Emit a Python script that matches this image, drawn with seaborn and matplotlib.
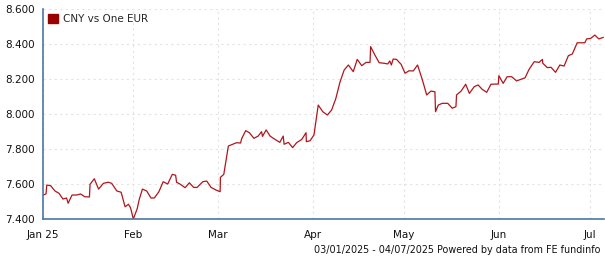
import matplotlib
matplotlib.use("Agg")
import matplotlib.pyplot as plt
from matplotlib.patches import Patch
import numpy as np
import pandas as pd
import seaborn as sns

# ---- data ----
series_name = "CNY vs One EUR"
start_date = "2025-01-01"
# days after 1 Jan 2025
day_offset = [
    1.5, 2.45, 2.7, 4.0, 5.4, 6.7, 8.0, 9.2, 9.7, 11.0, 12.5, 13.8, 15.2, 16.7, 16.9,
    18.3, 19.7, 21.3, 22.9, 24.0, 25.7, 27.1, 28.4, 29.5, 30.2, 31.1, 32.4, 33.0,
    34.1, 35.5, 36.9, 38.0, 39.5, 40.9, 42.4, 43.9, 45.0, 45.3, 46.4, 48.1, 49.5,
    50.9, 52.0, 53.9, 55.2, 56.6, 58.2, 59.6, 59.7, 60.8, 62.3, 63.7, 65.0, 66.3,
    66.7, 68.0, 69.2, 70.7, 72.1, 73.2, 73.5, 74.7, 76.0, 77.6, 79.2, 80.3, 80.6,
    82.0, 83.4, 84.7, 86.4, 87.8, 87.9, 89.1, 90.4, 91.8, 93.3, 94.8, 96.2, 97.6,
    98.9, 100.3, 101.7, 103.3, 104.6, 106.1, 107.5, 108.8, 109.0, 110.4, 111.8,
    113.4, 114.6, 115.3, 115.8, 116.4, 117.5, 119.0, 120.3, 121.6, 123.0, 124.4,
    126.0, 127.4, 128.8, 130.1, 130.3, 131.2, 132.5, 134.3, 135.8, 137.0, 137.2,
    138.7, 140.2, 141.4, 143.0, 144.3, 145.6, 147.1, 148.5, 149.8, 150.9, 151.1,
    152.5, 153.8, 155.3, 156.9, 158.3, 159.7, 161.0, 162.7, 164.3, 165.4, 165.5,
    167.0, 168.2, 169.7, 171.1, 172.5, 173.9, 175.2, 176.8, 178.3, 179.3, 179.9,
    181.2, 182.6, 183.9, 185.4,
]
rate = [
    7.537, 7.543, 7.594, 7.590, 7.560, 7.547, 7.514, 7.520, 7.490, 7.537, 7.537, 7.543,
    7.527, 7.526, 7.598, 7.630, 7.571, 7.604, 7.610, 7.604, 7.560, 7.553, 7.470,
    7.484, 7.464, 7.400, 7.460, 7.509, 7.571, 7.560, 7.520, 7.520, 7.556, 7.613,
    7.600, 7.655, 7.650, 7.610, 7.600, 7.579, 7.607, 7.581, 7.580, 7.613, 7.617,
    7.581, 7.566, 7.556, 7.638, 7.655, 7.817, 7.827, 7.836, 7.834, 7.860, 7.905,
    7.893, 7.861, 7.874, 7.899, 7.872, 7.909, 7.874, 7.855, 7.838, 7.874, 7.827,
    7.838, 7.808, 7.836, 7.855, 7.893, 7.842, 7.847, 7.880, 8.051, 8.013, 7.994,
    8.023, 8.090, 8.180, 8.251, 8.280, 8.242, 8.312, 8.276, 8.295, 8.295, 8.385,
    8.337, 8.293, 8.290, 8.286, 8.303, 8.280, 8.314, 8.312, 8.284, 8.233, 8.247,
    8.246, 8.280, 8.194, 8.109, 8.131, 8.127, 8.013, 8.051, 8.061, 8.061, 8.033,
    8.042, 8.109, 8.131, 8.170, 8.118, 8.156, 8.166, 8.141, 8.124, 8.170, 8.171,
    8.171, 8.219, 8.175, 8.213, 8.213, 8.189, 8.198, 8.207, 8.255, 8.299, 8.295,
    8.312, 8.290, 8.265, 8.267, 8.238, 8.280, 8.274, 8.333, 8.343, 8.407, 8.407,
    8.407, 8.429, 8.432, 8.451, 8.429, 8.438,
]
y_ticks = [7.4, 7.6, 7.8, 8.0, 8.2, 8.4, 8.6]
month_ticks = ["2025-02-01", "2025-03-01", "2025-04-01", "2025-05-01", "2025-06-01", "2025-07-01"]
x_labels = ["Jan 25", "Feb", "Mar", "Apr", "May", "Jun", "Jul"]
footer = "03/01/2025 - 04/07/2025 Powered by data from FE fundinfo"

# ---- build frame ----
dates = pd.Timestamp(start_date) + pd.to_timedelta(day_offset, unit="D")
df = pd.DataFrame({"date": dates, "rate": rate})

sns.set_style("white")
plt.rcParams["font.family"] = ["DejaVu Sans"]

W, H = 605, 260
fig = plt.figure(figsize=(W / 100, H / 100), dpi=100)
fig.patch.set_facecolor("white")
ax = fig.add_axes([43 / W, 41 / H, 561 / W, 210 / H])

sns.lineplot(data=df, x="date", y="rate", ax=ax, color="#B0161C", linewidth=0.9,
             legend=False, estimator=None, sort=False)

xleft = pd.Timestamp(start_date) + pd.Timedelta(days=1.46)
xright = pd.Timestamp(start_date) + pd.Timedelta(days=185.6)
ax.set_xlim(xleft, xright)
ax.set_ylim(7.4, 8.6)

axis_col = "#4A78A8"
for s in ["top", "right"]:
    ax.spines[s].set_visible(False)
for s in ["left", "bottom"]:
    ax.spines[s].set_color(axis_col)
    ax.spines[s].set_linewidth(1.2)

ax.set_yticks(y_ticks)
ax.set_yticklabels([f"{v:.3f}" for v in y_ticks])
xt = [xleft] + [pd.Timestamp(m) for m in month_ticks]
ax.set_xticks(xt)
ax.set_xticklabels(x_labels)
ax.set_xticks([xright], minor=True)

ax.tick_params(axis="both", which="both", direction="out", color="#333333",
               length=4, width=0.8, labelsize=7.5, labelcolor="#111111")
ax.tick_params(axis="y", pad=2)
ax.tick_params(axis="x", pad=4)
ax.set_xlabel("")
ax.set_ylabel("")

ax.grid(True, which="major", color="#E3E3E3", linestyle=(0, (2, 3)), linewidth=0.8)
ax.set_axisbelow(True)

handle = Patch(facecolor="#990000", edgecolor="#990000")
ax.legend([handle], [series_name], loc="upper left", bbox_to_anchor=(0.0, 1.0),
          frameon=False, fontsize=7.5, handlelength=0.9, handleheight=0.9,
          handletextpad=0.5, borderaxespad=0.3, borderpad=0.2)

fig.text(600 / W, 7 / H, footer, ha="right", va="baseline", fontsize=6.9, color="#111111")

fig.savefig("out.png", dpi=100, facecolor="white")
